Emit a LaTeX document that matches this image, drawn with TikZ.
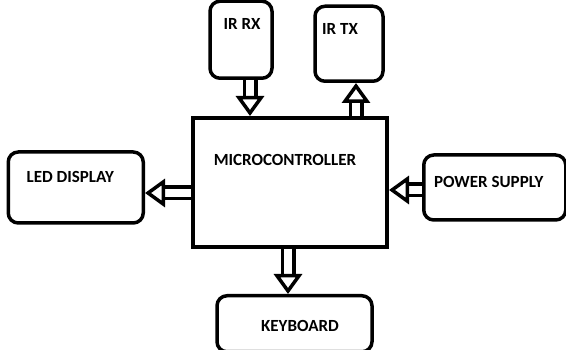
\documentclass[tikz,border=0pt]{standalone}
\usepackage{fontspec}
\setmainfont{Carlito}
\usetikzlibrary{positioning,arrows.meta}

\begin{document}
\begin{tikzpicture}[
  x = 1pt, y = -1pt,
  font = \fontsize{17}{20}\selectfont\bfseries,
  block/.style={draw, line width=3.5pt, rounded corners=10pt, inner sep=0pt},
  main-block/.style={draw, line width=4pt, inner sep=0pt},
  hollow-arrow/.style={double, double distance=8pt, line width=3.5pt,
    -{Triangle[open, length=20pt, width=28pt, line width=3.5pt]}},
  ]
  \useasboundingbox (0,0) rectangle (566,350);

  \node[main-block, minimum width=194pt, minimum height=129pt,
    label={[name=mcu-text, xshift=-5pt, yshift=22.5pt]center:MICROCONTROLLER}]
    (mcu) at (290,182.5) {};

  \node[block, minimum width=62pt, minimum height=77pt,
    above=36pt of mcu.north, xshift=-49pt,
    label={[name=irrx-text, xshift=1pt, yshift=15.5pt]center:IR RX}] (irrx) {};
  \node[block, minimum width=68pt, minimum height=75pt,
    above=33pt of mcu.north, xshift=59pt,
    label={[name=irtx-text, xshift=-9pt, yshift=14.5pt]center:IR TX}] (irtx) {};
  \node[block, minimum width=135pt, minimum height=71pt,
    left=46pt of mcu.west, yshift=-5pt,
    label={[name=led-text, xshift=-5.5pt, yshift=10.5pt]center:LED DISPLAY}] (led) {};
  \node[block, minimum width=142pt, minimum height=65pt,
    right=33pt of mcu.east, yshift=-5pt,
    label={[name=ps-text, xshift=-6pt, yshift=5.5pt]center:POWER SUPPLY}] (ps) {};
  \node[block, minimum width=155pt, minimum height=56pt,
    below=45pt of mcu.south, xshift=4.5pt,
    label={[name=kb-text, xshift=5.5pt, yshift=-2pt]center:KEYBOARD}] (kb) {};

  \coordinate (rx-out) at ([xshift=9pt]irrx.south);
  \coordinate (tx-in) at ([xshift=66pt]mcu.north);
  \coordinate (led-in) at ([yshift=-10.5pt]mcu.west);
  \coordinate (ps-out) at ([yshift=-2.5pt]ps.west);
  \coordinate (kb-in) at ([xshift=-2pt]mcu.south);

  \draw [hollow-arrow] (rx-out) -- (rx-out |- mcu.north);
  \draw [hollow-arrow] (tx-in) -- (tx-in |- irtx.south);
  \draw [hollow-arrow] (led-in) -- (led-in -| led.east);
  \draw [hollow-arrow] (ps-out) -- (ps-out -| mcu.east);
  \draw [hollow-arrow] (kb-in) -- (kb-in |- kb.north);
\end{tikzpicture}
\end{document}
